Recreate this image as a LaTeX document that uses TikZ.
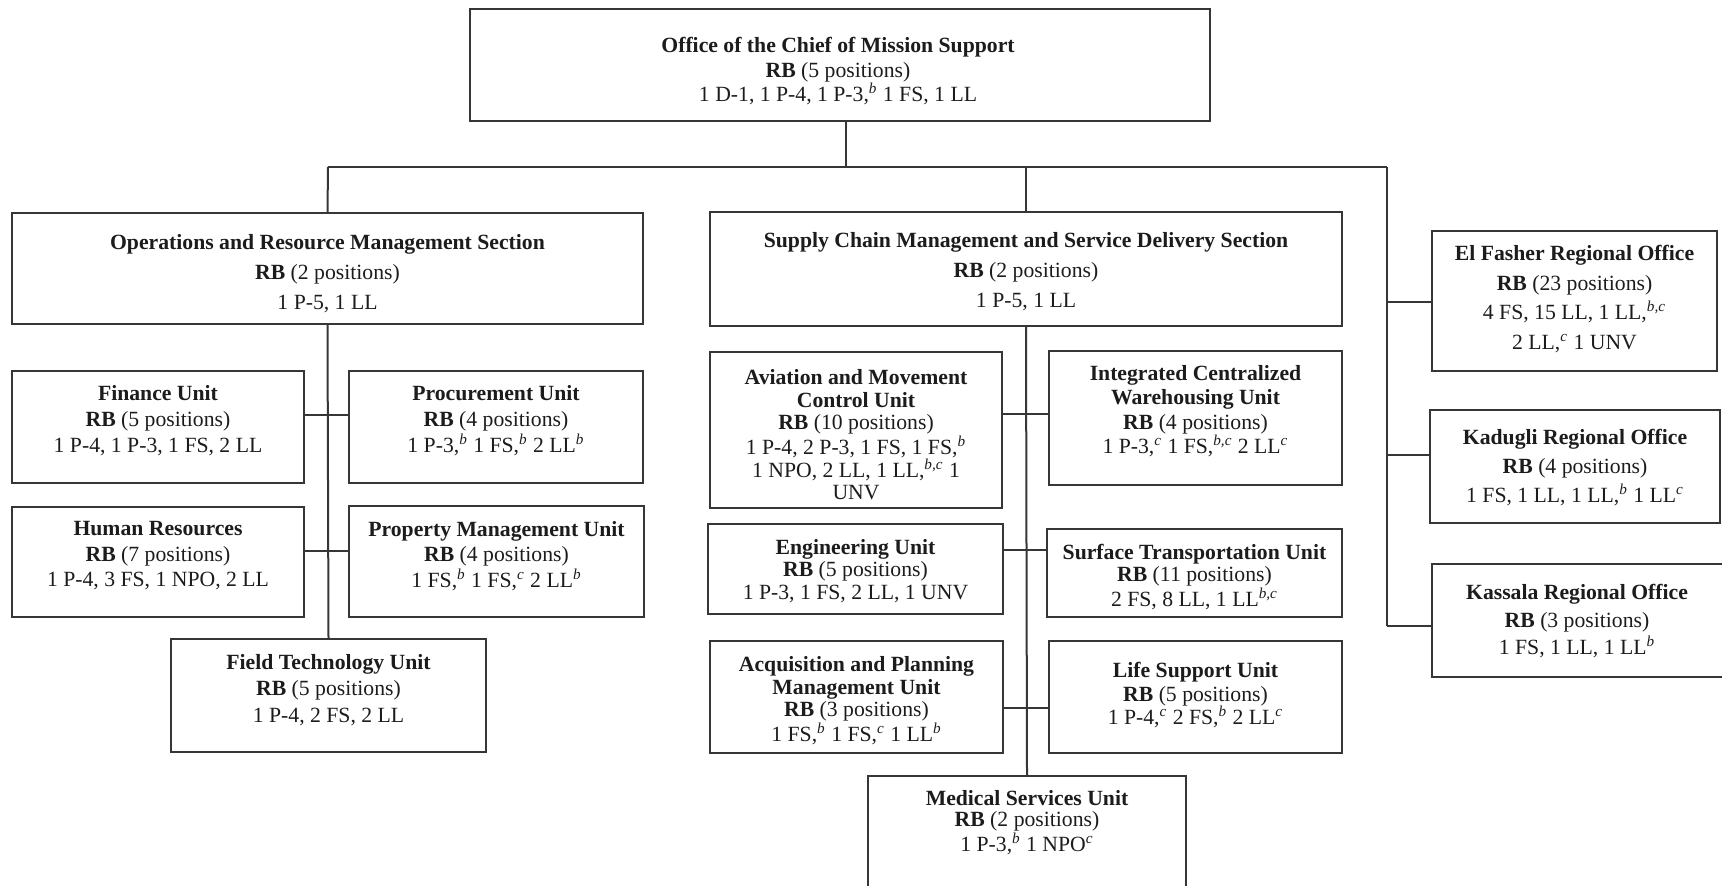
\documentclass[tikz,border=0pt]{standalone}
\usepackage{fontspec}
\setmainfont{Liberation Serif}
\usetikzlibrary{fit}

\definecolor{boxgray}{HTML}{363636}
\definecolor{textgray}{HTML}{1C1C1C}

% footnote marks after a grade
\newcommand{\fnmk}[1]{\textsuperscript{\itshape #1}}

% \orgbox{name}{x1}{y1}{x2}{y2}{x of text}{y of first text line}{line spacing}{text}
\newcommand{\orgbox}[9]{%
  \node[unitbox, fit={(#2,#3) (#4,#5)}] (#1) {};
  \node[unittext, font=\fontsize{10.85}{#8}\selectfont] (#1-t) at (#6,{#7-8}) {#9};
}

\tikzset{
  unitbox/.style={draw=boxgray, line width=1pt, inner sep=0pt},
  unittext/.style={anchor=north, align=center, inner sep=0pt, text=textgray},
  link/.style={draw=boxgray, line width=1pt}
}

\begin{document}
\begin{tikzpicture}[x=0.5pt, y=-0.5pt]
\clip (0,0) rectangle (1722,886);
\fill[white] (0,0) rectangle (1722,886);

% head office
\orgbox{top}{470}{9}{1210}{121}{838}{45}{12.25}{\textbf{Office of the Chief of Mission Support}\\\textbf{RB} (5 positions)\\1 D-1, 1 P-4, 1 P-3,\fnmk{b} 1 FS, 1 LL}

% sections
\orgbox{orms}{12}{213}{643}{324}{327.5}{242}{15}{\textbf{Operations and Resource Management Section}\\\textbf{RB} (2 positions)\\1 P-5, 1 LL}
\orgbox{scm}{710}{212}{1342}{326}{1026}{240}{15}{\textbf{Supply Chain Management and Service Delivery Section}\\\textbf{RB} (2 positions)\\1 P-5, 1 LL}

% operations and resource management units
\orgbox{fin}{12}{371}{304}{483}{158}{393}{13}{\textbf{Finance Unit}\\\textbf{RB} (5 positions)\\1 P-4, 1 P-3, 1 FS, 2 LL}
\orgbox{proc}{349}{371}{643}{483}{496}{393}{13}{\textbf{Procurement Unit}\\\textbf{RB} (4 positions)\\1 P-3,\fnmk{b} 1 FS,\fnmk{b} 2 LL\fnmk{b}}
\orgbox{hr}{12}{507}{304}{617}{158}{529}{12.75}{\textbf{Human Resources}\\\textbf{RB} (7 positions)\\1 P-4, 3 FS, 1 NPO, 2 LL}
\orgbox{prop}{349}{506}{644}{617}{496.5}{529}{12.75}{\textbf{Property Management Unit}\\\textbf{RB} (4 positions)\\1 FS,\fnmk{b} 1 FS,\fnmk{c} 2 LL\fnmk{b}}
\orgbox{ftu}{171}{639}{486}{752}{328.5}{662}{13.25}{\textbf{Field Technology Unit}\\\textbf{RB} (5 positions)\\1 P-4, 2 FS, 2 LL}

% supply chain units
\orgbox{av}{710}{352}{1002}{508}{856}{377}{11.3}{\textbf{Aviation and Movement}\\\textbf{Control Unit}\\\textbf{RB} (10 positions)\\1 P-4, 2 P-3, 1 FS, 1 FS,\fnmk{b}\\1 NPO, 2 LL, 1 LL,\fnmk{b,c} 1\\UNV}
\orgbox{icw}{1049}{351}{1342}{485}{1195.5}{373}{12.2}{\textbf{Integrated Centralized}\\\textbf{Warehousing Unit}\\\textbf{RB} (4 positions)\\1 P-3,\fnmk{c} 1 FS,\fnmk{b,c} 2 LL\fnmk{c}}
\orgbox{eng}{708}{524}{1003}{614}{855.5}{547}{11.25}{\textbf{Engineering Unit}\\\textbf{RB} (5 positions)\\1 P-3, 1 FS, 2 LL, 1 UNV}
\orgbox{stu}{1047}{529}{1342}{617}{1194.5}{552}{11}{\textbf{Surface Transportation Unit}\\\textbf{RB} (11 positions)\\2 FS, 8 LL, 1 LL\fnmk{b,c}}
\orgbox{acq}{710}{641}{1003}{753}{856.5}{664}{11.3}{\textbf{Acquisition and Planning}\\\textbf{Management Unit}\\\textbf{RB} (3 positions)\\1 FS,\fnmk{b} 1 FS,\fnmk{c} 1 LL\fnmk{b}}
\orgbox{life}{1049}{641}{1342}{753}{1195.5}{670}{11.75}{\textbf{Life Support Unit}\\\textbf{RB} (5 positions)\\1 P-4,\fnmk{c} 2 FS,\fnmk{b} 2 LL\fnmk{c}}
\orgbox{med}{868}{776}{1186}{900}{1027}{798}{10.5}{\textbf{Medical Services Unit}\\\textbf{RB} (2 positions)\\1 P-3,\fnmk{b} 1 NPO\fnmk{c}}

% regional offices
\orgbox{ef}{1432}{231}{1717}{371}{1574.5}{253}{14.8}{\textbf{El Fasher Regional Office}\\\textbf{RB} (23 positions)\\4 FS, 15 LL, 1 LL,\fnmk{b,c}\\2 LL,\fnmk{c} 1 UNV}
\orgbox{kad}{1430}{410}{1720}{523}{1575}{437}{14.5}{\textbf{Kadugli Regional Office}\\\textbf{RB} (4 positions)\\1 FS, 1 LL, 1 LL,\fnmk{b} 1 LL\fnmk{c}}
\orgbox{kas}{1432}{564}{1730}{677}{1577}{592}{13.75}{\textbf{Kassala Regional Office}\\\textbf{RB} (3 positions)\\1 FS, 1 LL, 1 LL\fnmk{b}}

% main bus under the head office
\coordinate (busL) at (328,167);
\coordinate (busC) at (846,167);
\coordinate (busR) at (1387,167);
\draw[link] (top.south -| busC) -- (busC);
\draw[link] (busL) -- (busR);
\draw[link] (busL) -- (orms.north);
\draw[link] (scm.north |- busL) -- (scm.north);

% regional offices branch
\coordinate (efj) at (1387,302);
\coordinate (kadj) at (1387,455);
\coordinate (kasj) at (1387,626);
\draw[link] (busR) -- (kasj);
\draw[link] (efj) -- (efj -| ef.west);
\draw[link] (kadj) -- (kadj -| kad.west);
\draw[link] (kasj) -- (kasj -| kas.west);

% operations and resource management spine
\coordinate (lj1) at (328,415);
\coordinate (lj2) at (328,551);
\draw[link] (orms.south) -- (ftu.north);
\draw[link] (lj1 -| fin.east) -- (lj1 -| proc.west);
\draw[link] (lj2 -| hr.east) -- (lj2 -| prop.west);

% supply chain spine
\coordinate (mj1) at (1027,414);
\coordinate (mj2) at (1027,550);
\coordinate (mj3) at (1027,708);
\draw[link] (scm.south) -- (med.north);
\draw[link] (mj1 -| av.east) -- (mj1 -| icw.west);
\draw[link] (mj2 -| eng.east) -- (mj2 -| stu.west);
\draw[link] (mj3 -| acq.east) -- (mj3 -| life.west);
\end{tikzpicture}
\end{document}
